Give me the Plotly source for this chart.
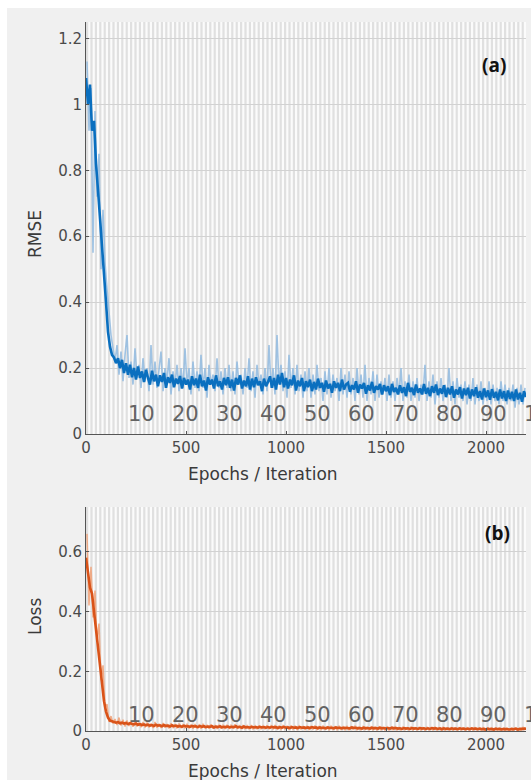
import numpy as np
import plotly.graph_objects as go

# ---- training log (RMSE / loss per iteration, sampled every 10 iterations) ----
ITERS_PER_EPOCH = 22
N_EPOCHS = 100
STEP = 10

rmse_smooth = [
    1.08, 1.0, 1.06, 0.92, 0.95, 0.82, 0.74, 0.66, 0.55, 0.48, 0.40, 0.31, 0.265, 0.24, 0.232, 0.215,
    0.23, 0.2, 0.225, 0.185, 0.215, 0.18, 0.21, 0.172, 0.2, 0.165, 0.205, 0.17, 0.19, 0.158, 0.195,
    0.17, 0.15, 0.192, 0.16, 0.18, 0.145, 0.178, 0.158, 0.185, 0.14, 0.172, 0.155, 0.18, 0.142, 0.168, 0.152, 0.176, 0.138, 0.17, 0.15,
    0.165, 0.135, 0.175, 0.148, 0.168, 0.14, 0.18, 0.145, 0.162, 0.132, 0.172, 0.15, 0.165, 0.138, 0.178, 0.145, 0.16, 0.135, 0.17, 0.148,
    0.172, 0.14, 0.165, 0.132, 0.17, 0.15, 0.178, 0.138, 0.162, 0.145, 0.175, 0.135, 0.168, 0.142, 0.172, 0.148, 0.16, 0.13, 0.168, 0.145,
    0.158, 0.175, 0.14, 0.17, 0.135, 0.18, 0.15, 0.185, 0.142, 0.17, 0.138, 0.165, 0.148, 0.178, 0.132, 0.162, 0.145, 0.17, 0.13, 0.16,
    0.142, 0.165, 0.13, 0.158, 0.135, 0.168, 0.14, 0.155, 0.128, 0.162, 0.138, 0.152, 0.125, 0.16, 0.14, 0.155, 0.13, 0.165, 0.135, 0.15,
    0.155, 0.128, 0.148, 0.135, 0.16, 0.125, 0.15, 0.138, 0.155, 0.122, 0.148, 0.132, 0.158, 0.125, 0.145, 0.135, 0.152, 0.12, 0.148, 0.13,
    0.145, 0.118, 0.152, 0.128, 0.14, 0.12, 0.148, 0.125, 0.142, 0.115, 0.155, 0.128, 0.14, 0.118, 0.15, 0.125, 0.138, 0.12, 0.152, 0.122,
    0.14, 0.115, 0.145, 0.125, 0.15, 0.118, 0.138, 0.122, 0.148, 0.112, 0.14, 0.12, 0.145, 0.11, 0.135, 0.12, 0.142, 0.108, 0.138, 0.118,
    0.14, 0.108, 0.135, 0.115, 0.142, 0.11, 0.13, 0.105, 0.138, 0.112, 0.132, 0.104, 0.136, 0.11, 0.128, 0.102, 0.135, 0.108, 0.13, 0.1,
    0.132, 0.106, 0.128, 0.1, 0.135, 0.105, 0.125, 0.098, 0.13, 0.112,
]

rmse_raw = [
    1.13, 0.92, 1.05, 0.55, 0.98, 0.72, 0.85, 0.50, 0.68, 0.52, 0.44, 0.36, 0.30, 0.26, 0.22,
    0.27, 0.18, 0.25, 0.16, 0.24, 0.3, 0.17, 0.22, 0.15, 0.26, 0.17, 0.21, 0.14, 0.23, 0.16,
    0.2, 0.13, 0.27, 0.15, 0.22, 0.14, 0.19, 0.25, 0.13, 0.2, 0.16, 0.23, 0.12, 0.19, 0.15, 0.21, 0.13, 0.2, 0.14, 0.26,
    0.15, 0.2, 0.12, 0.22, 0.14, 0.19, 0.13, 0.24, 0.14, 0.2, 0.11, 0.21, 0.15, 0.18, 0.13, 0.23, 0.14, 0.19, 0.12, 0.2,
    0.14, 0.21, 0.13, 0.19, 0.12, 0.22, 0.15, 0.18, 0.12, 0.2, 0.14, 0.23, 0.13, 0.19, 0.11, 0.21, 0.15, 0.18, 0.12, 0.2,
    0.13, 0.27, 0.14, 0.2, 0.12, 0.3, 0.15, 0.21, 0.13, 0.19, 0.11, 0.24, 0.14, 0.2, 0.12, 0.21, 0.13, 0.18, 0.11, 0.19,
    0.13, 0.2, 0.11, 0.18, 0.12, 0.21, 0.13, 0.17, 0.1, 0.19, 0.12, 0.2, 0.11, 0.18, 0.13, 0.17, 0.1, 0.2, 0.12, 0.18,
    0.11, 0.19, 0.12, 0.17, 0.1, 0.2, 0.12, 0.18, 0.11, 0.21, 0.1, 0.17, 0.12, 0.19, 0.1, 0.18, 0.11, 0.16, 0.12, 0.17,
    0.1, 0.18, 0.11, 0.16, 0.1, 0.17, 0.12, 0.2, 0.1, 0.16, 0.11, 0.18, 0.1, 0.16, 0.11, 0.17, 0.1, 0.15, 0.12, 0.21,
    0.1, 0.16, 0.11, 0.18, 0.09, 0.16, 0.11, 0.17, 0.1, 0.15, 0.11, 0.2, 0.1, 0.16, 0.09, 0.17, 0.11, 0.15, 0.1, 0.16,
    0.09, 0.15, 0.1, 0.17, 0.09, 0.15, 0.1, 0.16, 0.09, 0.14, 0.1, 0.16, 0.09, 0.15, 0.1, 0.14, 0.09, 0.16, 0.1, 0.15,
    0.09, 0.14, 0.1, 0.15, 0.08, 0.14, 0.09, 0.15, 0.09, 0.14,
]

loss_smooth = [
    0.58, 0.52, 0.48, 0.46, 0.40, 0.33, 0.26, 0.2, 0.15, 0.1, 0.065, 0.045, 0.035, 0.032, 0.03, 0.028,
    0.03, 0.026, 0.028, 0.025, 0.027, 0.023, 0.026, 0.024, 0.022, 0.025, 0.021, 0.023, 0.02, 0.022, 0.019,
    0.021, 0.018, 0.02, 0.017, 0.021, 0.018, 0.019, 0.016, 0.02, 0.017, 0.018, 0.015, 0.019, 0.016, 0.018, 0.015, 0.017, 0.014, 0.018, 0.015,
    0.016, 0.014, 0.017, 0.015, 0.016, 0.013, 0.017, 0.014, 0.016, 0.013, 0.015, 0.014, 0.016, 0.012, 0.015, 0.013, 0.016, 0.012, 0.014, 0.013,
    0.015, 0.012, 0.014, 0.013, 0.016, 0.012, 0.014, 0.011, 0.015, 0.012, 0.013, 0.011, 0.014, 0.012, 0.013, 0.011, 0.014, 0.012, 0.013, 0.011,
    0.013, 0.011, 0.014, 0.012, 0.013, 0.01, 0.013, 0.011, 0.014, 0.011, 0.012, 0.01, 0.013, 0.011, 0.012, 0.01, 0.013, 0.011, 0.012, 0.01,
    0.012, 0.01, 0.013, 0.011, 0.012, 0.009, 0.012, 0.01, 0.011, 0.009, 0.012, 0.01, 0.011, 0.009, 0.012, 0.01, 0.011, 0.009, 0.011, 0.01,
    0.011, 0.009, 0.012, 0.01, 0.011, 0.009, 0.01, 0.008, 0.011, 0.009, 0.01, 0.008, 0.011, 0.009, 0.01, 0.008, 0.011, 0.009, 0.01, 0.008,
    0.01, 0.008, 0.011, 0.009, 0.01, 0.008, 0.009, 0.007, 0.01, 0.008, 0.009, 0.007, 0.01, 0.008, 0.009, 0.007, 0.01, 0.008, 0.009, 0.007,
    0.009, 0.007, 0.01, 0.008, 0.009, 0.007, 0.009, 0.006, 0.009, 0.007, 0.008, 0.006, 0.009, 0.007, 0.008, 0.006, 0.009, 0.007, 0.008, 0.006,
    0.008, 0.006, 0.009, 0.007, 0.008, 0.006, 0.008, 0.006, 0.007, 0.005, 0.008, 0.006, 0.007, 0.005, 0.008, 0.006, 0.007, 0.005, 0.007, 0.006,
    0.007, 0.005, 0.007, 0.006, 0.008, 0.005, 0.007, 0.006, 0.007, 0.008,
]

loss_raw = [
    0.66, 0.42, 0.55, 0.38, 0.47, 0.30, 0.36, 0.17, 0.22, 0.08, 0.09, 0.03, 0.05, 0.025, 0.04,
    0.02, 0.045, 0.018, 0.038, 0.015, 0.035, 0.017, 0.03, 0.014, 0.034, 0.015, 0.028, 0.013, 0.03, 0.012,
    0.028, 0.012, 0.025, 0.01, 0.03, 0.011, 0.024, 0.01, 0.027, 0.011, 0.023, 0.009, 0.026, 0.01, 0.022, 0.009, 0.025, 0.01, 0.021, 0.009,
    0.024, 0.009, 0.021, 0.008, 0.023, 0.009, 0.02, 0.008, 0.024, 0.009, 0.019, 0.008, 0.022, 0.008, 0.02, 0.007, 0.021, 0.008, 0.019, 0.007,
    0.021, 0.007, 0.019, 0.008, 0.022, 0.007, 0.018, 0.007, 0.02, 0.008, 0.018, 0.006, 0.02, 0.007, 0.017, 0.006, 0.019, 0.007, 0.017, 0.006,
    0.019, 0.006, 0.017, 0.007, 0.02, 0.006, 0.016, 0.006, 0.018, 0.007, 0.016, 0.005, 0.018, 0.006, 0.016, 0.005, 0.017, 0.006, 0.015, 0.005,
    0.017, 0.005, 0.015, 0.006, 0.018, 0.005, 0.015, 0.005, 0.016, 0.006, 0.014, 0.004, 0.016, 0.005, 0.014, 0.004, 0.016, 0.005, 0.014, 0.004,
    0.015, 0.004, 0.014, 0.005, 0.016, 0.004, 0.013, 0.004, 0.015, 0.005, 0.013, 0.004, 0.014, 0.004, 0.013, 0.003, 0.014, 0.004, 0.012, 0.003,
    0.014, 0.003, 0.012, 0.004, 0.014, 0.003, 0.012, 0.003, 0.013, 0.004, 0.011, 0.003, 0.013, 0.003, 0.011, 0.003, 0.012, 0.003, 0.011, 0.002,
    0.012, 0.003, 0.011, 0.003, 0.013, 0.002, 0.011, 0.003, 0.012, 0.002, 0.01, 0.003, 0.011, 0.002, 0.01, 0.002, 0.011, 0.003, 0.01, 0.002,
    0.011, 0.002, 0.01, 0.002, 0.011, 0.002, 0.01, 0.002, 0.011, 0.002, 0.009, 0.002, 0.01, 0.002, 0.009, 0.002, 0.01, 0.002, 0.009, 0.002,
    0.01, 0.002, 0.009, 0.002, 0.01, 0.002, 0.009, 0.002, 0.012, 0.01,
]

epoch_marks = [10, 20, 30, 40, 50, 60, 70, 80, 90, 100]
iter_ticks = [0, 500, 1000, 1500, 2000]
rmse_ticks = [0, 0.2, 0.4, 0.6, 0.8, 1, 1.2]
loss_ticks = [0, 0.2, 0.4, 0.6]

it_smooth = np.arange(len(rmse_smooth)) * STEP
it_raw = np.arange(len(rmse_raw)) * STEP + STEP / 2
X_MAX = ITERS_PER_EPOCH * N_EPOCHS

W, H = 531, 780
FONT = "DejaVu Sans"
TICK_COL = "#4a4a4a"

def px_x(p):
    return p / W

def px_y(p):
    return 1 - p / H

fig = go.Figure()

# panel (a): RMSE
fig.add_trace(go.Scatter(x=it_raw, y=rmse_raw, mode="lines", xaxis="x", yaxis="y",
                         line=dict(color="rgba(150,188,224,0.9)", width=1.6), hoverinfo="skip"))
fig.add_trace(go.Scatter(x=it_smooth, y=rmse_smooth, mode="lines", xaxis="x", yaxis="y",
                         line=dict(color="#0a6fbf", width=2.6)))
# panel (b): loss
fig.add_trace(go.Scatter(x=it_raw, y=loss_raw, mode="lines", xaxis="x2", yaxis="y2",
                         line=dict(color="rgba(240,160,118,0.85)", width=1.5), hoverinfo="skip"))
fig.add_trace(go.Scatter(x=it_smooth, y=loss_smooth, mode="lines", xaxis="x2", yaxis="y2",
                         line=dict(color="#d95319", width=2.6)))

shapes = []
# outer white border of the figure
shapes.append(dict(type="rect", xref="paper", yref="paper", x0=0, x1=1, y0=px_y(8), y1=1,
                   fillcolor="white", line=dict(width=0), layer="below"))
shapes.append(dict(type="rect", xref="paper", yref="paper", x0=0, x1=px_x(7), y0=0, y1=1,
                   fillcolor="white", line=dict(width=0), layer="below"))

# alternating epoch shading
for xa, ya in (("x", "y"), ("x2", "y2")):
    for e in range(N_EPOCHS):
        x0 = e * ITERS_PER_EPOCH
        shapes.append(dict(type="rect", xref=xa, yref=f"{ya} domain", x0=x0, x1=x0 + ITERS_PER_EPOCH / 2,
                           y0=0, y1=1, fillcolor="#e0e0e0", line=dict(width=0), layer="below"))

annotations = []
# epoch numbers along the bottom of each panel
for xa, ya, yv in (("x", "y", 0.06), ("x2", "y2", 0.053)):
    for k in epoch_marks:
        annotations.append(dict(x=(k - 1) * ITERS_PER_EPOCH, y=yv, xref=xa, yref=ya, text=str(k),
                                showarrow=False, xanchor="left", yanchor="middle",
                                font=dict(family=FONT, size=21, color="#636363")))

def paper_label(xp, yp, text, size, family=FONT, color="#3a3a3a", angle=0):
    return dict(x=px_x(xp), y=px_y(yp), xref="paper", yref="paper", text=text, textangle=angle,
                showarrow=False, xanchor="center", yanchor="middle",
                font=dict(family=family, size=size, color=color))

# panel tags
annotations.append(paper_label(494, 65, "<b>(a)</b>", 19, family="Open Sans", color="#111111"))
annotations.append(paper_label(497, 533, "<b>(b)</b>", 19, family="Open Sans", color="#111111"))

# axis titles
annotations.append(paper_label(263, 474, "Epochs / Iteration", 17))
annotations.append(paper_label(263, 771, "Epochs / Iteration", 17))
annotations.append(paper_label(35, 234, "RMSE", 17, angle=-90))
annotations.append(paper_label(35, 617, "Loss", 17, angle=-90))

axis_common = dict(showline=True, linecolor="#555555", linewidth=1, ticks="inside", ticklen=3,
                   tickcolor="#555555", tickfont=dict(family=FONT, size=15, color=TICK_COL),
                   zeroline=False, mirror=False, automargin=False)

x_dom = [px_x(86), px_x(526)]
fig.update_layout(
    width=W, height=H, autosize=False,
    margin=dict(l=0, r=0, t=0, b=0, pad=0, autoexpand=False),
    paper_bgcolor="#f0f0f0",
    plot_bgcolor="#fbfbfb",
    showlegend=False,
    shapes=shapes,
    annotations=annotations,
    xaxis=dict(domain=x_dom, range=[0, X_MAX], tickvals=iter_ticks, showgrid=False,
               anchor="y", **axis_common),
    yaxis=dict(domain=[px_y(434), px_y(22)], range=[0, 1.25], tickvals=rmse_ticks,
               showgrid=True, gridcolor="#d2d2d2", gridwidth=1, anchor="x", **axis_common),
    xaxis2=dict(domain=x_dom, range=[0, X_MAX], tickvals=iter_ticks, showgrid=False,
                anchor="y2", **axis_common),
    yaxis2=dict(domain=[px_y(731), px_y(507)], range=[0, 0.75], tickvals=loss_ticks,
                showgrid=True, gridcolor="#d2d2d2", gridwidth=1, anchor="x2", **axis_common),
)

fig.write_html("out.html", config={"responsive": False},
               post_script="document.body.style.margin='0';document.body.style.overflow='hidden';")
